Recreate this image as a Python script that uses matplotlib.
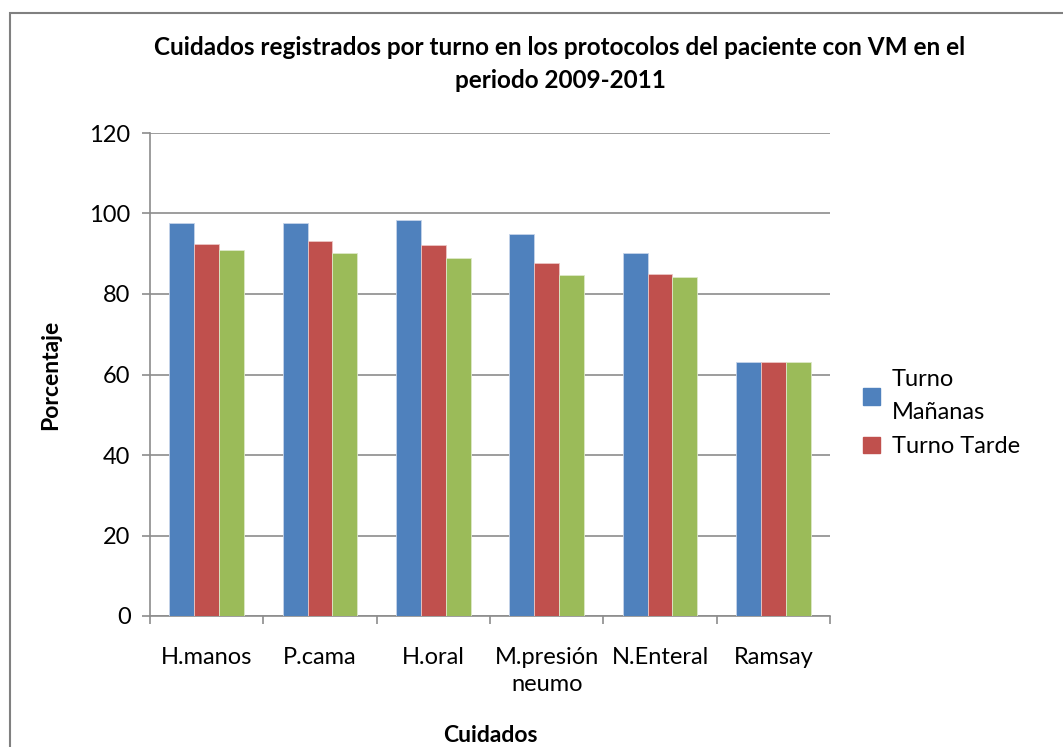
import numpy as np
import matplotlib.pyplot as plt
from matplotlib.patches import Rectangle, Patch

plt.rcParams['font.family'] = ['Lato', 'DejaVu Sans']

categories = ['H.manos', 'P.cama', 'H.oral', 'M.presión\nneumo', 'N.Enteral', 'Ramsay']
manana = [97.6, 97.6, 98.5, 94.9, 90.1, 63.0]
tarde = [92.5, 93.2, 92.2, 87.8, 85.0, 63.0]
noche = [90.9, 90.2, 88.9, 84.6, 84.3, 63.0]

fig = plt.figure(figsize=(10.63, 7.47), dpi=100)
fig.patches.append(Rectangle((10 / 1063, -0.05), 1.2, 1 - 13 / 747 + 0.05,
                             transform=fig.transFigure, fill=False,
                             edgecolor='#808080', lw=1.5))

ax = fig.add_axes([150 / 1063, 1 - 616 / 747, 680 / 1063, 483 / 747])
x = np.arange(len(categories))
w = 0.22
ax.bar(x - w, manana, w, color='#4f81bd', edgecolor='#c6d4ea', lw=0.6, zorder=3)
ax.bar(x, tarde, w, color='#c0504d', edgecolor='#ecc6c5', lw=0.6, zorder=3)
ax.bar(x + w, noche, w, color='#9bbb59', edgecolor='#dde9c8', lw=0.6, zorder=3)

ax.set_xlim(-0.5, len(categories) - 0.5)
ax.set_ylim(0, 120)
ax.set_yticks(range(0, 121, 20))
ax.yaxis.grid(True, color='#8c8c8c', lw=1.2)
ax.set_axisbelow(True)
ax.set_xticks(x)
ax.set_xticklabels(categories, fontsize=17, linespacing=1.4)
ax.set_xticks(np.arange(-0.5, len(categories), 1), minor=True)
ax.tick_params(axis='x', which='major', length=0, pad=22)
ax.tick_params(axis='x', which='minor', length=6, color='#8c8c8c', width=1.2)
ax.tick_params(axis='y', length=6, color='#8c8c8c', width=1.2, labelsize=17, pad=8)
for s in ['top', 'right']:
    ax.spines[s].set_visible(False)
for s in ['left', 'bottom']:
    ax.spines[s].set_color('#8c8c8c')
    ax.spines[s].set_linewidth(1.2)

ax.set_ylabel('Porcentaje', fontsize=16.5, fontweight='bold', labelpad=20)
fig.text(490 / 1063, 1 - 736 / 747, 'Cuidados', ha='center', va='center',
         fontsize=16.5, fontweight='bold')
fig.text(560 / 1063, 1 - 64 / 747,
         'Cuidados registrados por turno en los protocolos del paciente con VM en el\nperiodo 2009-2011',
         ha='center', va='center', fontsize=17.5, fontweight='bold', linespacing=1.55)

handles = [Patch(color='#4f81bd'), Patch(color='#c0504d')]
leg = fig.legend(handles, ['Turno\nMañanas', 'Turno Tarde'], loc='upper left',
                 bbox_to_anchor=(842 / 1063, 1 - 348 / 747), frameon=False,
                 handlelength=0.7, handleheight=0.7, handletextpad=0.5, labelspacing=0.55,
                 prop={'size': 17})
for t in leg.get_texts():
    t.set_linespacing(1.7)

fig.savefig('out.png', dpi=100)
